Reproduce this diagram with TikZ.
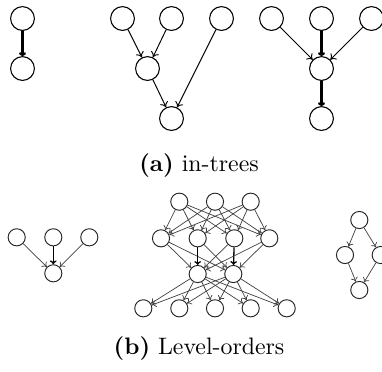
\documentclass[tikz,border=0pt]{standalone}
\usetikzlibrary{arrows.meta}
\begin{document}
\begin{tikzpicture}[x=0.42pt,y=-0.42pt,
  big/.style={circle,draw,line width=0.45pt,minimum size=10pt,inner sep=0pt},
  small/.style={circle,draw,black!85,line width=0.4pt,minimum size=7.2pt,inner sep=0pt},
  edge/.style={-{To[length=2.2pt,width=3.6pt]},line width=0.4pt},
  heavy/.style={-{To[length=1.6pt,width=3pt]},line width=0.95pt},
  fine/.style={-{To[length=1.8pt,width=3pt]},line width=0.3pt,black!75},
  finebold/.style={-{To[length=1.6pt,width=2.8pt]},line width=0.55pt},
  caption/.style={inner sep=0pt,font=\normalsize}]
\useasboundingbox (0,0) rectangle (382,371);

% ---- in-trees ----
% chain of two
\node[big] (a1) at (22.5,18.5) {};
\node[big] (a2) at (22.5,68.5) {};
\draw[heavy] (a1) -- (a2);

% two-level tree
\node[big] (b1) at (122.5,18.5) {};
\node[big] (b2) at (171.5,18.5) {};
\node[big] (b3) at (221.5,18.5) {};
\node[big] (b4) at (147.5,68.5) {};
\node[big] (b5) at (171.5,118.5) {};
\draw[edge] (b1) -- (b4);
\draw[edge] (b2) -- (b4);
\draw[edge] (b4) -- (b5);
\draw[edge] (b3) -- (b5);

% three leaves into one root
\node[big] (c1) at (271.5,18.5) {};
\node[big] (c2) at (321.5,18.5) {};
\node[big] (c3) at (371.5,18.5) {};
\node[big] (c4) at (321.5,68.5) {};
\node[big] (c5) at (321.5,118.5) {};
\draw[edge] (c1) -- (c4);
\draw[heavy] (c2) -- (c4);
\draw[edge] (c3) -- (c4);
\draw[heavy] (c4) -- (c5);

\node[caption] (capa) at (199,166) {\textbf{(a)} in-trees};

% ---- level-orders ----
% fan-in of three
\node[small] (d1) at (16.7,237.3) {};
\node[small] (d2) at (53.3,237.3) {};
\node[small] (d3) at (89.3,237.3) {};
\node[small] (d4) at (53.3,273.3) {};
\draw[fine] (d1) -- (d4);
\draw[finebold] (d2) -- (d4);
\draw[fine] (d3) -- (d4);

% four-level layered order
\foreach \i/\x in {1/179.3,2/215,3/250.7}
  \node[small] (t\i) at (\x,201.7) {};
\foreach \i/\x in {1/161,2/197.7,3/234.3,4/269.3}
  \node[small] (s\i) at (\x,238.3) {};
\foreach \i/\x in {1/197.7,2/233.3}
  \node[small] (m\i) at (\x,274) {};
\foreach \i/\x in {1/143.3,2/179.3,3/215,4/250.7,5/286.7}
  \node[small] (u\i) at (\x,308.3) {};
\foreach \i in {1,2,3}
  \foreach \j in {1,2,3,4}
    \draw[fine] (t\i) -- (s\j);
\draw[fine] (s1) -- (m1);
\draw[fine] (s1) -- (m2);
\draw[finebold] (s2) -- (m1);
\draw[fine] (s2) -- (m2);
\draw[fine] (s3) -- (m1);
\draw[finebold] (s3) -- (m2);
\draw[fine] (s4) -- (m1);
\draw[fine] (s4) -- (m2);
\foreach \i in {1,2}
  \foreach \j in {1,2,3,4,5}
    \draw[fine] (m\i) -- (u\j);

% diamond
\node[small] (e1) at (359.3,220) {};
\node[small] (e2) at (345,255) {};
\node[small] (e3) at (380.7,255) {};
\node[small] (e4) at (359.3,290) {};
\draw[fine] (e1) -- (e2);
\draw[fine] (e1) -- (e3);
\draw[fine] (e2) -- (e4);
\draw[fine] (e3) -- (e4);

\node[caption] (capb) at (199,349) {\textbf{(b)} Level-orders};
\end{tikzpicture}
\end{document}
